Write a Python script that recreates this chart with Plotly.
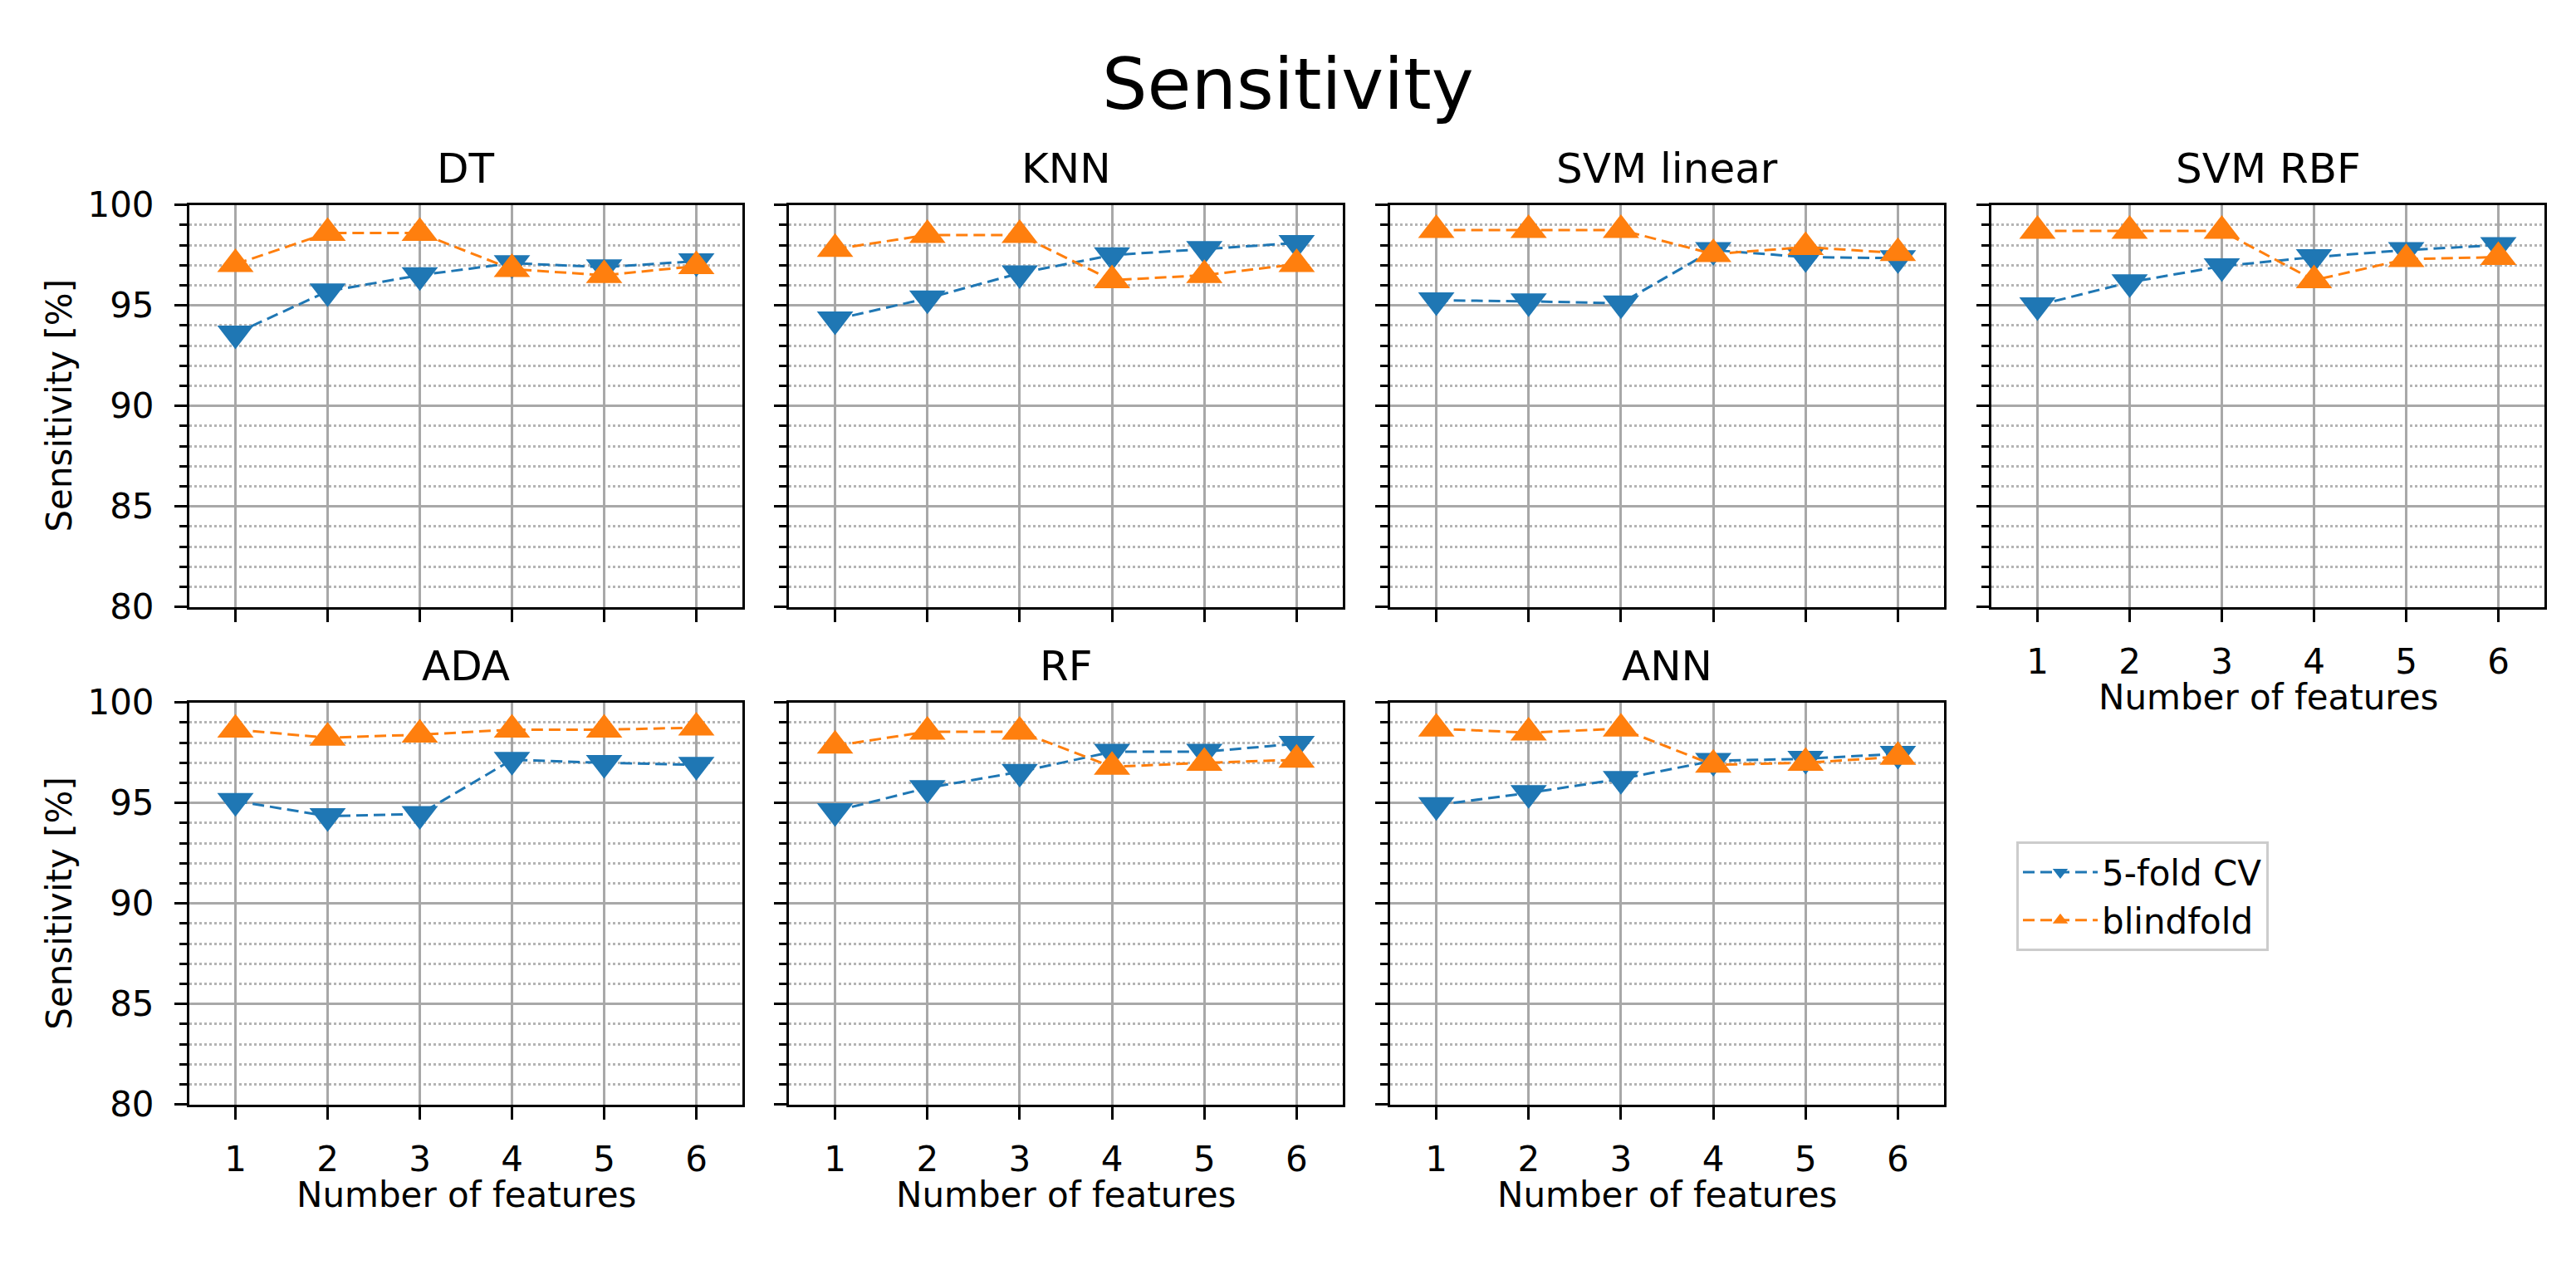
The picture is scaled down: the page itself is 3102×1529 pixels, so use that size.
import plotly.graph_objects as go

# ---------------- data ----------------
models = ["DT", "KNN", "SVM linear", "SVM RBF", "ADA", "RF", "ANN"]
n_features = [1, 2, 3, 4, 5, 6]

cv_DT = [93.6, 95.7, 96.5, 97.1, 96.9, 97.2]
bf_DT = [97.05, 98.6, 98.6, 96.8, 96.5, 96.95]

cv_KNN = [94.3, 95.35, 96.6, 97.5, 97.8, 98.1]
bf_KNN = [97.8, 98.5, 98.5, 96.25, 96.5, 97.05]

cv_SVM_linear = [95.25, 95.2, 95.1, 97.75, 97.4, 97.35]
bf_SVM_linear = [98.75, 98.75, 98.75, 97.55, 97.9, 97.6]

cv_SVM_RBF = [95.0, 96.15, 96.95, 97.4, 97.75, 98.0]
bf_SVM_RBF = [98.7, 98.7, 98.7, 96.25, 97.3, 97.4]

cv_ADA = [95.1, 94.35, 94.45, 97.15, 97.0, 96.9]
bf_ADA = [98.65, 98.25, 98.4, 98.65, 98.65, 98.75]

cv_RF = [94.6, 95.75, 96.55, 97.55, 97.55, 97.95]
bf_RF = [97.85, 98.55, 98.55, 96.8, 97.0, 97.15]

cv_ANN = [94.9, 95.5, 96.2, 97.1, 97.2, 97.45]
bf_ANN = [98.7, 98.5, 98.7, 96.9, 97.0, 97.3]

cv_values = [cv_DT, cv_KNN, cv_SVM_linear, cv_SVM_RBF, cv_ADA, cv_RF, cv_ANN]
bf_values = [bf_DT, bf_KNN, bf_SVM_linear, bf_SVM_RBF, bf_ADA, bf_RF, bf_ANN]

series_names = ["5-fold CV", "blindfold"]
y_ticks = [80, 85, 90, 95, 100]

main_title = "Sensitivity"
y_title = "Sensitivity [%]"
x_title = "Number of features"

# ---------------- layout geometry ----------------
W, H = 3102, 1529
FONT = "DejaVu Sans"
BLUE = "#1f77b4"
ORANGE = "#ff7f0e"

col_px = [(228, 894), (950, 1617), (1674, 2341), (2398, 3064)]
row_px = [(230, 730), (849, 1349)]
positions = [(0, 0), (0, 1), (0, 2), (0, 3), (1, 0), (1, 1), (1, 2)]

fig = go.Figure()
annotations = []

for i, (model, cv, bf) in enumerate(zip(models, cv_values, bf_values)):
    r, c = positions[i]
    k = i + 1
    xa = "x" if k == 1 else f"x{k}"
    ya = "y" if k == 1 else f"y{k}"
    xdom = [col_px[c][0] / W, col_px[c][1] / W]
    ydom = [1 - row_px[r][1] / H, 1 - row_px[r][0] / H]

    fig.add_trace(go.Scatter(
        x=n_features, y=cv, name=series_names[0], xaxis=xa, yaxis=ya,
        mode="lines+markers", showlegend=(i == 0), legendgroup="cv",
        line=dict(color=BLUE, width=3, dash="14px,7px"),
        marker=dict(symbol="triangle-down", size=38, color=BLUE),
    ))
    fig.add_trace(go.Scatter(
        x=n_features, y=bf, name=series_names[1], xaxis=xa, yaxis=ya,
        mode="lines+markers", showlegend=(i == 0), legendgroup="bf",
        line=dict(color=ORANGE, width=3, dash="14px,7px"),
        marker=dict(symbol="triangle-up", size=38, color=ORANGE),
    ))

    show_x_labels = (r == 1) or (c == 3)
    show_y_labels = (c == 0)

    xaxis = dict(
        domain=xdom, anchor=ya, range=[0.5, 6.5],
        tickmode="array", tickvals=n_features, ticktext=[str(v) for v in n_features],
        showticklabels=show_x_labels,
        ticks="outside", ticklen=15, tickwidth=3, tickcolor="black",
        ticklabelstandoff=12,
        showgrid=True, gridcolor="#a8a8a8", gridwidth=3,
        showline=True, linecolor="black", linewidth=3, mirror=True,
        zeroline=False, tickfont=dict(family=FONT, size=42, color="black"),
        fixedrange=True,
    )
    yaxis = dict(
        domain=ydom, anchor=xa, range=[80, 100],
        tickmode="array", tickvals=y_ticks, ticktext=[str(v) for v in y_ticks],
        showticklabels=show_y_labels,
        ticks="outside", ticklen=15, tickwidth=3, tickcolor="black",
        ticklabelstandoff=16,
        showgrid=True, gridcolor="#a8a8a8", gridwidth=3,
        minor=dict(dtick=1, tick0=80, ticks="outside", ticklen=9, tickwidth=2.5,
                   tickcolor="black", showgrid=True, gridcolor="#b4b4b4",
                   griddash="dot", gridwidth=2.5),
        showline=True, linecolor="black", linewidth=3, mirror=True,
        zeroline=False, tickfont=dict(family=FONT, size=42, color="black"),
        fixedrange=True,
    )
    fig.layout[f"xaxis{'' if k == 1 else k}"] = xaxis
    fig.layout[f"yaxis{'' if k == 1 else k}"] = yaxis

    # subplot title
    annotations.append(dict(
        text=model, x=(xdom[0] + xdom[1]) / 2, y=1 - (row_px[r][0] - 45) / H,
        xref="paper", yref="paper", xanchor="center", yanchor="middle",
        showarrow=False, font=dict(family=FONT, size=50, color="black"),
    ))
    if show_x_labels:
        annotations.append(dict(
            text=x_title, x=(xdom[0] + xdom[1]) / 2, y=1 - (row_px[r][1] + 112) / H,
            xref="paper", yref="paper", xanchor="center", yanchor="middle",
            showarrow=False, font=dict(family=FONT, size=42, color="black"),
        ))
    if show_y_labels:
        annotations.append(dict(
            text=y_title, x=72 / W, y=1 - (row_px[r][0] + row_px[r][1]) / 2 / H,
            xref="paper", yref="paper", xanchor="center", yanchor="middle",
            textangle=-90, showarrow=False,
            font=dict(family=FONT, size=42, color="black"),
        ))

annotations.append(dict(
    text=main_title, x=0.5, y=1 - 80 / H, xref="paper", yref="paper",
    xanchor="center", yanchor="middle", showarrow=False,
    font=dict(family=FONT, size=86, color="black"),
))

fig.update_layout(
    width=W, height=H, autosize=False,
    margin=dict(l=0, r=0, t=0, b=0),
    paper_bgcolor="white", plot_bgcolor="white",
    annotations=annotations,
    showlegend=True,
    legend=dict(
        x=2428 / W, y=1 - 1022 / H, xanchor="left", yanchor="top",
        bordercolor="#cccccc", borderwidth=3, bgcolor="white",
        font=dict(family=FONT, size=42, color="black"),
        itemwidth=90, tracegroupgap=0,
    ),
    font=dict(family=FONT, color="black"),
)

fig.write_html("out.html", config={"displayModeBar": False},
               post_script="document.body.style.margin='0';")
